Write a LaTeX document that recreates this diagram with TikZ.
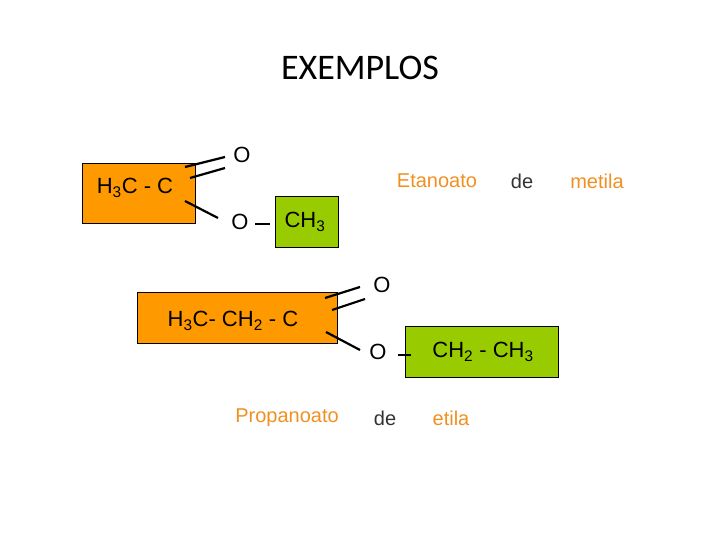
\documentclass[tikz,border=0pt]{standalone}
\usepackage{fontspec}
\setmainfont{Liberation Sans}
\newfontfamily\titlefont{Carlito}
\definecolor{org}{HTML}{FF9900}
\definecolor{grn}{HTML}{99CC00}
\definecolor{lbl}{HTML}{F09020}
\begin{document}
\begin{tikzpicture}[x=1pt,y=-1pt,
  obox/.style={draw=black,fill=org,minimum height=#1,inner sep=0pt},
  gbox/.style={draw=black,fill=grn,inner sep=0pt},
  chem/.style={font=\fontsize{22}{24}\selectfont,inner sep=0pt},
  lab/.style={font=\fontsize{20}{22}\selectfont,inner sep=0pt,text=lbl},
  bond/.style={line width=2.2pt}]
\useasboundingbox (0,0) rectangle (720,540);
\node[font=\titlefont\fontsize{36}{40}\selectfont] (t) at (360,68) {EXEMPLOS};
% first
\node[obox=60pt,minimum width=113pt] (b1) at (138.5,193) {};
\node[chem] (h1) at (135,188) {H\textsubscript{3}C - C};
\node[gbox,minimum width=63pt,minimum height=51pt] (g1) at (306.5,221.5) {};
\node[chem] (ch1) at (305,222) {CH\textsubscript{3}};
\node[chem] (o1) at (242,155) {O};
\node[chem] (o2) at (240,222) {O};
\coordinate (a1) at (185,167); \coordinate (a2) at (225,157);
\coordinate (a3) at (190,178); \coordinate (a4) at (225,168);
\coordinate (a5) at (185,201); \coordinate (a6) at (218,218);
\coordinate (a7) at (255,224); \coordinate (a8) at (270,224);
\draw[bond] (a1)--(a2); \draw[bond] (a3)--(a4); \draw[bond] (a5)--(a6); \draw[line width=1.6pt] (a7)--(a8);
\node[lab] (e1) at (437,181) {Etanoato};
\node[lab,text=black!80] (e2) at (522,181) {de};
\node[lab] (e3) at (597,181) {metila};
% second
\node[obox=51pt,minimum width=200pt] (b2) at (237,317.5) {};
\node[chem] (h2) at (233,321) {H\textsubscript{3}C- CH\textsubscript{2} - C};
\node[gbox,minimum width=153pt,minimum height=51pt] (g2) at (481.5,351.5) {};
\node[chem] (ch2) at (483,352) {CH\textsubscript{2} - CH\textsubscript{3}};
\node[chem] (o3) at (382,285) {O};
\node[chem] (o4) at (378,352) {O};
\coordinate (c1) at (325,298); \coordinate (c2) at (360,287);
\coordinate (c3) at (332,310); \coordinate (c4) at (365,299);
\coordinate (c5) at (326,332); \coordinate (c6) at (360,350);
\coordinate (c7) at (398,355); \coordinate (c8) at (411,355);
\draw[bond] (c1)--(c2); \draw[bond] (c3)--(c4); \draw[bond] (c5)--(c6); \draw[line width=1.6pt] (c7)--(c8);
\node[lab] (p1) at (287,418) {Propanoato};
\node[lab,text=black!80] (p2) at (385,418) {de};
\node[lab] (p3) at (451,418) {etila};
\end{tikzpicture}
\end{document}
